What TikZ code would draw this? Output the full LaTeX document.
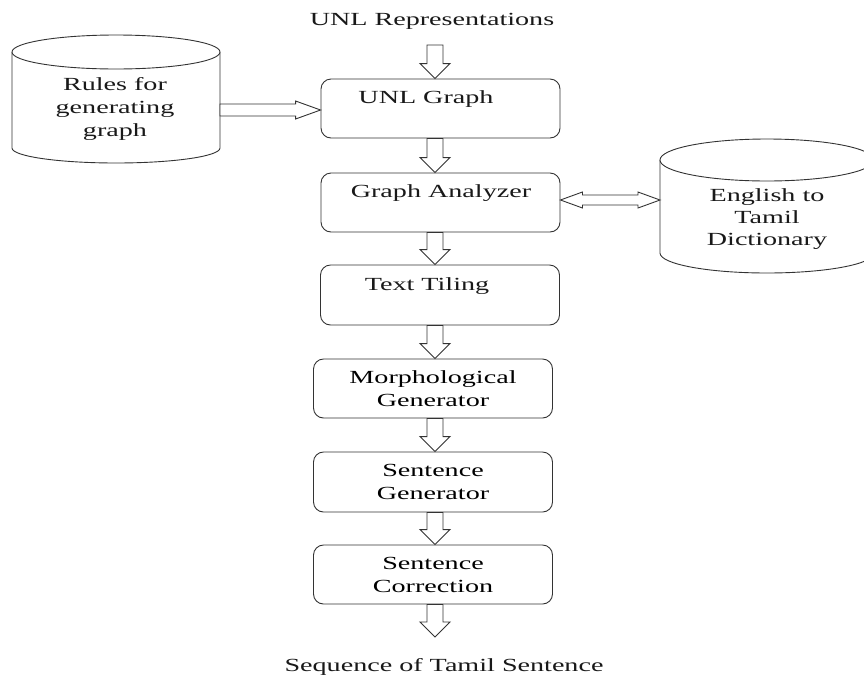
\documentclass[tikz,border=0pt]{standalone}
\usepackage{fontspec}
\setmainfont[FakeStretch=1.52]{Liberation Serif}
\usetikzlibrary{calc}
\tikzset{
  ln/.style={draw=black!80, line width=0.9pt},
  box/.style={ln, rounded corners=10pt, minimum width=239pt, inner sep=0pt, align=center, fill=white},
  txt/.style={anchor=base, inner sep=0pt, text=black!90},
  blk/.style={ln, fill=white, line join=miter},
}
\newcommand\blkdown[2]{\draw[blk] let \p1=(#1), \p2=(#2) in
  (\x1-8pt,\y1) -- (\x1+8pt,\y1) -- (\x1+8pt,\y2+15pt) -- (\x1+15pt,\y2+15pt) -- (\x1,\y2)
  -- (\x1-15pt,\y2+15pt) -- (\x1-8pt,\y2+15pt) -- cycle;}
\newcommand\blkright[2]{\draw[blk] let \p1=(#1), \p2=(#2) in
  (\x1,\y1+6pt) -- (\x2-25pt,\y1+6pt) -- (\x2-25pt,\y1+9pt) -- (\x2,\y1) -- (\x2-25pt,\y1-9pt)
  -- (\x2-25pt,\y1-6pt) -- (\x1,\y1-6pt) -- cycle;}
\newcommand\blkboth[2]{\draw[blk] let \p1=(#1), \p2=(#2) in
  (\x1,\y1) -- (\x1+22pt,\y1+8pt) -- (\x1+22pt,\y1+5pt) -- (\x2-22pt,\y1+5pt) -- (\x2-22pt,\y1+8pt)
  -- (\x2,\y1) -- (\x2-22pt,\y1-8pt) -- (\x2-22pt,\y1-5pt) -- (\x1+22pt,\y1-5pt) -- (\x1+22pt,\y1-8pt) -- cycle;}
\begin{document}
\begin{tikzpicture}[x=1pt,y=-1pt, font=\fontsize{18.5}{23}\selectfont]
\useasboundingbox[fill=white] (0,0) rectangle (864,686);

% title and output text
\node[txt] (title) at (432,25) {UNL Representations};
\node[txt] (outtxt) at (444,671) {Sequence of Tamil Sentence};

% boxes
\node[box, minimum height=59pt] (g1) at (440.5,108.5) {};
\node[txt] (t1) at (426,103) {UNL Graph};
\node[box, minimum height=59pt] (g2) at (440.5,202.5) {};
\node[txt] (t2) at (441,197) {Graph Analyzer};
\node[box, minimum height=60pt] (g3) at (440,295) {};
\node[txt] (t3) at (427,290) {Text Tiling};
\node[box, minimum height=59pt] (g4) at (433,388.5) {Morphological\\Generator};
\node[box, minimum height=60pt] (g5) at (433,482) {Sentence\\Generator};
\node[box, minimum height=59pt] (g6) at (433,574.5) {Sentence\\Correction};

% cylinder: rules
\draw[ln, fill=white] (12,52) -- (12,148) arc[start angle=180, end angle=0, x radius=104, y radius=15] -- (220,52);
\draw[ln, fill=white] (116,52) ellipse[x radius=104, y radius=17];
\node[txt] (r1) at (115,90) {Rules for};
\node[txt] (r2) at (115,113) {generating};
\node[txt] (r3) at (115,136) {graph};
\coordinate (rulesR) at (220,110);

% cylinder: dictionary
\draw[ln, fill=white] (660,160) -- (660,253) arc[start angle=180, end angle=0, x radius=107, y radius=20] -- (874,160);
\draw[ln, fill=white] (767,160) ellipse[x radius=107, y radius=21];
\node[txt] (d1) at (767,201) {English to};
\node[txt] (d2) at (767,223) {Tamil};
\node[txt] (d3) at (767,245) {Dictionary};
\coordinate (dictL) at (660,200);

% arrows
\coordinate (ax) at (435,0);
\coordinate (in1) at (435,45);
\coordinate (out1) at (435,637);
\blkdown{in1}{ax |- g1.north}
\blkdown{ax |- g1.south}{ax |- g2.north}
\blkdown{ax |- g2.south}{ax |- g3.north}
\blkdown{ax |- g3.south}{ax |- g4.north}
\blkdown{ax |- g4.south}{ax |- g5.north}
\blkdown{ax |- g5.south}{ax |- g6.north}
\blkdown{ax |- g6.south}{out1}
\blkright{rulesR}{g1.west |- rulesR}
\blkboth{g2.east |- dictL}{dictL}
\end{tikzpicture}
\end{document}
